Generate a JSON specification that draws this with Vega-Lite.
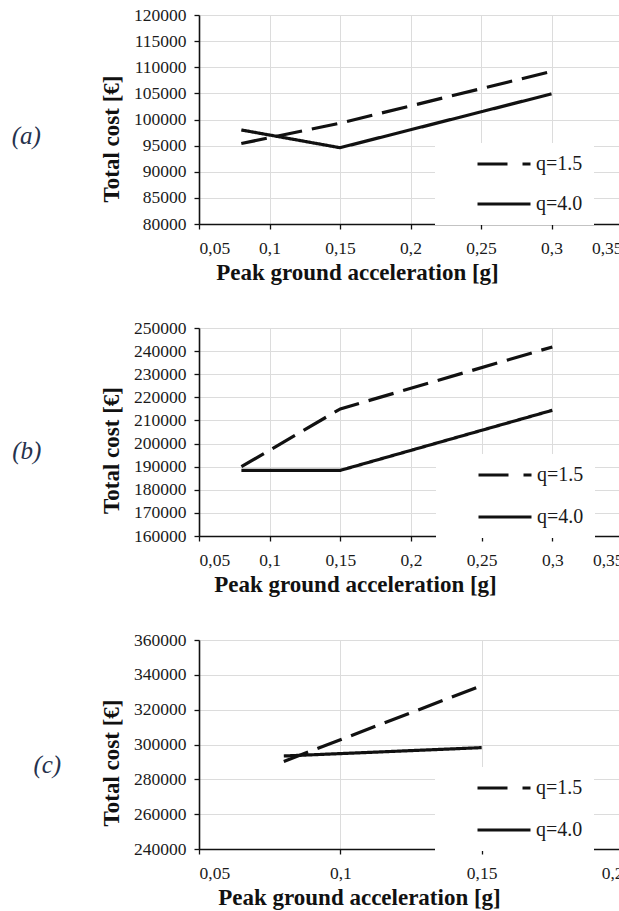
{
  "$schema": "https://vega.github.io/schema/vega-lite/v6.json",
  "background": "white",
  "padding": {"left": 11, "top": 6, "right": 0, "bottom": 0},
  "datasets": {
    "a": [
      {"pga": 0.08, "cost": 95400, "q": "q=1.5"},
      {"pga": 0.15, "cost": 99300, "q": "q=1.5"},
      {"pga": 0.3, "cost": 109200, "q": "q=1.5"},
      {"pga": 0.08, "cost": 98000, "q": "q=4.0"},
      {"pga": 0.15, "cost": 94600, "q": "q=4.0"},
      {"pga": 0.3, "cost": 104900, "q": "q=4.0"}
    ],
    "b": [
      {"pga": 0.08, "cost": 190000, "q": "q=1.5"},
      {"pga": 0.15, "cost": 215000, "q": "q=1.5"},
      {"pga": 0.3, "cost": 241800, "q": "q=1.5"},
      {"pga": 0.08, "cost": 188400, "q": "q=4.0"},
      {"pga": 0.15, "cost": 188400, "q": "q=4.0"},
      {"pga": 0.3, "cost": 214400, "q": "q=4.0"}
    ],
    "c": [
      {"pga": 0.08, "cost": 290300, "q": "q=1.5"},
      {"pga": 0.15, "cost": 333800, "q": "q=1.5"},
      {"pga": 0.08, "cost": 293400, "q": "q=4.0"},
      {"pga": 0.15, "cost": 298200, "q": "q=4.0"}
    ]
  },
  "config": {
    "font": "Liberation Serif",
    "view": {"stroke": null},
    "axis": {
      "domainColor": "#111",
      "domainWidth": 1.6,
      "tickColor": "#111",
      "tickSize": 5,
      "tickWidth": 1.3,
      "gridColor": "#dcdcdc",
      "gridWidth": 1,
      "labelFont": "Liberation Serif",
      "labelFontSize": 17.5,
      "labelColor": "#1a1a1a",
      "titleFont": "Liberation Serif",
      "titleFontSize": 23,
      "titleFontWeight": "bold",
      "titleColor": "#111"
    },
    "axisX": {"labelPadding": 10, "titlePadding": 5},
    "axisY": {"labelPadding": 8, "titlePadding": 10},
    "legend": {
      "orient": "none",
      "fillColor": "white",
      "padding": 11,
      "symbolType": "stroke",
      "symbolSize": 7225,
      "symbolStrokeWidth": 3,
      "symbolStrokeColor": "#111",
      "clipHeight": 20,
      "labelFont": "Liberation Serif",
      "labelFontSize": 20,
      "labelColor": "#1a1a1a",
      "labelOffset": 1,
      "labelExpr": "datum.label + '      '"
    },
    "line": {"strokeWidth": 3.2, "strokeCap": "butt"}
  },
  "columns": 1,
  "align": "none",
  "bounds": "flush",
  "spacing": 104,
  "resolve": {
    "scale": {"strokeDash": "independent", "opacity": "independent", "color": "independent"},
    "legend": {"strokeDash": "independent", "opacity": "independent", "color": "independent"}
  },
  "concat": [
    {
      "title": {"text": "(a)", "orient": "left", "angle": 0, "anchor": "middle", "frame": "group", "dy": 4, "offset": 45, "font": "Liberation Serif", "fontStyle": "italic", "fontWeight": "normal", "fontSize": 25, "color": "#26324d"},
      "width": 423,
      "height": 209,
      "data": {"name": "a"},
      "mark": {"type": "line"},
      "encoding": {
        "x": {"field": "pga", "type": "quantitative", "title": "Peak ground acceleration [g]",
              "scale": {"domain": [0.05, 0.35], "nice": false, "zero": false},
              "axis": {"values": [0.05, 0.1, 0.15, 0.2, 0.25, 0.3, 0.35], "labelExpr": "replace(format(datum.value, '.2~f'), '.', ',')", "titleX": 158}},
        "y": {"field": "cost", "type": "quantitative", "title": "Total cost [€]",
              "scale": {"domain": [80000, 120000], "nice": false, "zero": false},
              "axis": {"values": [80000, 85000, 90000, 95000, 100000, 105000, 110000, 115000, 120000], "format": "d", "titleY": 123.5}},
        "strokeDash": {"field": "q", "type": "nominal",
              "scale": {"domain": ["q=1.5", "q=4.0"], "range": [[26, 10], [1, 0]]}, "legend": null},
        "opacity": {"field": "q", "type": "ordinal",
              "scale": {"range": [1, 1]},
              "legend": {"title": null, "values": ["q=1.5"], "legendX": 236, "legendY": 128,
                         "symbolDash": [0, 29.5, 30, 15, 8, 100]}},
        "color": {"field": "q", "type": "nominal",
              "scale": {"domain": ["q=4.0", "q=1.5"], "range": ["#111111", "#111111"]},
              "legend": {"title": null, "values": ["q=4.0"], "legendX": 236, "legendY": 168,
                         "symbolDash": [0, 29.5, 53, 100]}}
      }
    },
    {
      "title": {"text": "(b)", "orient": "left", "angle": 0, "anchor": "middle", "frame": "group", "dy": 7, "offset": 44.5, "font": "Liberation Serif", "fontStyle": "italic", "fontWeight": "normal", "fontSize": 25, "color": "#26324d"},
      "width": 424,
      "height": 208,
      "data": {"name": "b"},
      "mark": {"type": "line"},
      "encoding": {
        "x": {"field": "pga", "type": "quantitative", "title": "Peak ground acceleration [g]",
              "scale": {"domain": [0.05, 0.35], "nice": false, "zero": false},
              "axis": {"values": [0.05, 0.1, 0.15, 0.2, 0.25, 0.3, 0.35], "labelExpr": "replace(format(datum.value, '.2~f'), '.', ',')", "titleX": 156}},
        "y": {"field": "cost", "type": "quantitative", "title": "Total cost [€]",
              "scale": {"domain": [160000, 250000], "nice": false, "zero": false},
              "axis": {"values": [160000, 170000, 180000, 190000, 200000, 210000, 220000, 230000, 240000, 250000], "format": "d", "titleY": 122}},
        "strokeDash": {"field": "q", "type": "nominal",
              "scale": {"domain": ["q=1.5", "q=4.0"], "range": [[26, 10], [1, 0]]}, "legend": null},
        "opacity": {"field": "q", "type": "ordinal",
              "scale": {"range": [1, 1]},
              "legend": {"title": null, "values": ["q=1.5"], "legendX": 237, "legendY": 126,
                         "symbolDash": [0, 29.5, 30, 15, 8, 100]}},
        "color": {"field": "q", "type": "nominal",
              "scale": {"domain": ["q=4.0", "q=1.5"], "range": ["#111111", "#111111"]},
              "legend": {"title": null, "values": ["q=4.0"], "legendX": 237, "legendY": 168,
                         "symbolDash": [0, 29.5, 53, 100]}}
      }
    },
    {
      "title": {"text": "(c)", "orient": "left", "angle": 0, "anchor": "middle", "frame": "group", "dy": 8, "offset": 25.5, "font": "Liberation Serif", "fontStyle": "italic", "fontWeight": "normal", "fontSize": 25, "color": "#26324d"},
      "width": 424,
      "height": 209,
      "data": {"name": "c"},
      "mark": {"type": "line"},
      "encoding": {
        "x": {"field": "pga", "type": "quantitative", "title": "Peak ground acceleration [g]",
              "scale": {"domain": [0.05, 0.2], "nice": false, "zero": false},
              "axis": {"values": [0.05, 0.1, 0.15, 0.2], "labelExpr": "replace(format(datum.value, '.2~f'), '.', ',')", "titleX": 160}},
        "y": {"field": "cost", "type": "quantitative", "title": "Total cost [€]",
              "scale": {"domain": [240000, 360000], "nice": false, "zero": false},
              "axis": {"values": [240000, 260000, 280000, 300000, 320000, 340000, 360000], "format": "d", "titleY": 122.5}},
        "strokeDash": {"field": "q", "type": "nominal",
              "scale": {"domain": ["q=1.5", "q=4.0"], "range": [[26, 10], [1, 0]]}, "legend": null},
        "opacity": {"field": "q", "type": "ordinal",
              "scale": {"range": [1, 1]},
              "legend": {"title": null, "values": ["q=1.5"], "legendX": 236, "legendY": 127,
                         "symbolDash": [0, 29.5, 30, 15, 8, 100]}},
        "color": {"field": "q", "type": "nominal",
              "scale": {"domain": ["q=4.0", "q=1.5"], "range": ["#111111", "#111111"]},
              "legend": {"title": null, "values": ["q=4.0"], "legendX": 236, "legendY": 169,
                         "symbolDash": [0, 29.5, 53, 100]}}
      }
    }
  ]
}
